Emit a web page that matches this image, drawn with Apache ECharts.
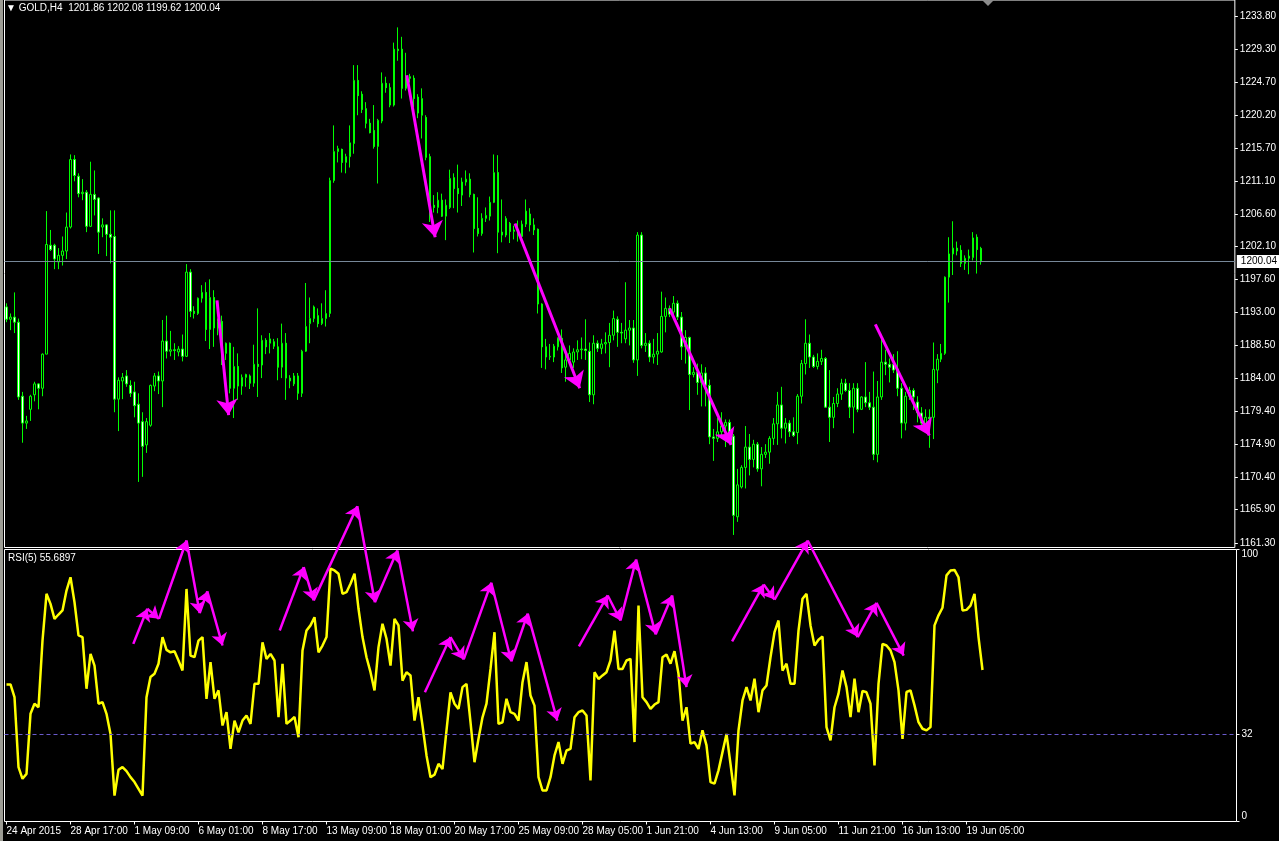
<!DOCTYPE html>
<html>
<head>
<meta charset="utf-8">
<title>GOLD,H4</title>
<script src="https://cdn.jsdelivr.net/npm/echarts@6/dist/echarts.min.js"></script>
<style>
html, body { margin: 0; padding: 0; background: #000; }
#chart { width: 1279px; height: 841px; }
</style>
</head>
<body>
<div id="chart"></div>
<script>
// instrument + last bar (O H L C) shown in the header
const symbolName = 'GOLD,H4';
const lastQuote = [1201.86, 1202.08, 1199.62, 1200.04];
const rsiCaption = 'RSI(5) 55.6897';

// time axis: one label every 16 bars
const timeLabels = ['24 Apr 2015', '28 Apr 17:00', '1 May 09:00', '6 May 01:00', '8 May 17:00',
  '13 May 09:00', '18 May 01:00', '20 May 17:00', '25 May 09:00', '28 May 05:00', '1 Jun 21:00',
  '4 Jun 13:00', '9 Jun 05:00', '11 Jun 21:00', '16 Jun 13:00', '19 Jun 05:00'];

// price scale ticks
const priceTicks = [1161.30, 1165.90, 1170.40, 1174.90, 1179.40, 1184.00, 1188.50, 1193.00, 1197.60,
  1202.10, 1206.60, 1211.10, 1215.70, 1220.20, 1224.70, 1229.30, 1233.80];
const rsiTicks = [0, 32, 100];
const rsiLevel = 32;

// H4 candles: [open, close, low, high]
const candles = [
  [1193.8,1192.1,1191.7,1194.3],[1192.1,1192.4,1190.6,1192.9],[1192.4,1191.7,1190.2,1195.8],[1191.7,1181.4,1181.0,1192.2],[1181.5,1177.8,1175.1,1182.1],
  [1177.8,1178.1,1177.0,1178.8],[1179.7,1181.5,1178.1,1181.7],[1181.7,1183.2,1180.8,1183.5],[1183.2,1182.6,1179.7,1183.3],[1182.6,1187.3,1181.5,1187.4],
  [1187.3,1202.4,1187.3,1207.0],[1202.3,1201.7,1201.5,1204.4],[1202.3,1200.4,1199.0,1202.5],[1200.0,1200.9,1199.0,1201.9],[1200.9,1201.5,1199.5,1203.5],
  [1201.5,1204.8,1200.4,1206.8],[1204.8,1214.1,1204.6,1214.8],[1214.1,1211.9,1211.1,1214.7],[1211.8,1209.4,1208.9,1212.2],[1209.4,1209.6,1208.5,1211.4],
  [1209.6,1204.9,1204.1,1209.9],[1204.9,1209.3,1204.8,1213.8],[1209.3,1208.6,1206.4,1212.6],[1208.8,1204.1,1201.1,1208.9],[1204.8,1205.1,1203.4,1206.0],
  [1205.1,1203.8,1200.8,1205.2],[1203.8,1203.4,1199.8,1207.1],[1203.5,1181.1,1179.3,1207.1],[1181.1,1183.7,1176.7,1184.1],[1183.6,1184.1,1181.1,1184.7],
  [1184.3,1183.2,1182.8,1185.1],[1183.0,1181.9,1181.4,1183.7],[1182.1,1180.2,1178.6,1183.5],[1180.4,1177.8,1169.7,1181.9],[1178.0,1174.6,1170.4,1179.3],
  [1174.8,1178.0,1173.7,1178.5],[1177.5,1183.0,1177.3,1183.1],[1182.9,1184.3,1182.2,1184.7],[1184.3,1183.6,1181.8,1184.9],[1183.6,1189.1,1180.0,1192.0],
  [1189.1,1187.7,1186.7,1192.6],[1187.7,1187.9,1187.0,1190.5],[1187.9,1187.8,1186.5,1188.8],[1187.6,1188.0,1187.0,1188.4],[1188.0,1187.0,1186.3,1190.0],
  [1187.0,1198.6,1186.9,1199.7],[1198.6,1193.2,1192.4,1199.0],[1193.2,1192.9,1192.2,1193.9],[1192.9,1195.0,1192.7,1195.1],[1195.0,1195.8,1194.4,1196.8],
  [1195.8,1190.7,1189.1,1197.2],[1190.7,1195.1,1188.0,1197.6],[1195.1,1190.9,1188.3,1196.1],[1190.9,1191.8,1189.9,1192.2],[1191.8,1186.9,1185.8,1192.6],
  [1187.4,1188.8,1186.5,1188.9],[1188.8,1182.6,1181.9,1188.9],[1182.6,1185.6,1178.5,1188.3],[1185.6,1182.9,1181.0,1187.4],[1182.9,1184.1,1181.7,1184.5],
  [1184.1,1184.5,1182.8,1184.6],[1184.3,1183.3,1182.5,1184.5],[1183.3,1185.9,1182.8,1188.6],[1185.9,1185.6,1181.4,1193.6],[1185.8,1189.2,1184.0,1189.9],
  [1189.2,1188.3,1187.3,1189.5],[1188.8,1189.4,1187.4,1190.2],[1189.0,1188.4,1188.0,1189.4],[1188.3,1185.5,1183.7,1189.5],[1185.5,1188.8,1184.0,1191.5],
  [1188.8,1184.0,1181.0,1190.2],[1184.0,1183.6,1182.6,1184.4],[1183.2,1184.3,1182.9,1184.7],[1184.3,1181.9,1181.0,1184.7],[1181.9,1187.7,1181.4,1187.9],
  [1187.7,1191.1,1187.6,1197.1],[1191.5,1192.2,1188.8,1195.1],[1192.2,1193.8,1191.7,1194.0],[1192.6,1191.5,1191.0,1193.6],[1191.5,1192.2,1191.3,1194.3],
  [1192.2,1192.9,1191.1,1196.1],[1192.9,1211.2,1192.4,1211.6],[1211.2,1215.2,1210.9,1218.8],[1215.2,1215.6,1213.7,1216.0],[1215.5,1213.7,1212.3,1215.6],
  [1213.7,1214.5,1212.2,1214.9],[1214.5,1216.4,1213.0,1218.8],[1216.3,1225.0,1214.9,1227.1],[1225.0,1222.9,1220.2,1227.1],[1223.1,1221.0,1220.5,1223.5],
  [1221.1,1219.1,1218.4,1222.0],[1219.1,1217.8,1217.7,1219.7],[1218.1,1215.9,1215.6,1221.6],[1215.9,1219.5,1210.8,1219.7],[1219.4,1224.6,1219.1,1226.1],
  [1224.6,1224.0,1223.3,1225.5],[1224.0,1221.6,1221.3,1224.6],[1221.6,1229.3,1221.4,1230.2],[1229.3,1229.1,1227.7,1232.3],[1229.3,1223.9,1222.5,1231.0],
  [1223.9,1225.5,1223.6,1228.8],[1225.5,1225.3,1224.7,1225.9],[1225.3,1222.5,1221.3,1225.7],[1222.7,1220.5,1219.8,1223.1],[1220.2,1222.5,1217.0,1223.9],
  [1219.9,1214.4,1214.0,1220.2],[1214.5,1207.8,1205.5,1214.9],[1207.8,1207.5,1206.8,1209.2],[1207.5,1208.5,1206.7,1209.6],[1208.5,1206.3,1206.2,1209.4],
  [1206.3,1207.8,1203.0,1208.6],[1207.5,1211.5,1207.3,1212.7],[1211.6,1210.1,1207.4,1212.2],[1210.1,1209.4,1206.8,1213.4],[1209.2,1211.0,1207.7,1211.6],
  [1211.0,1211.4,1210.5,1212.6],[1211.4,1209.3,1208.9,1212.2],[1209.3,1204.6,1201.3,1209.4],[1204.6,1203.9,1203.5,1208.9],[1203.9,1206.0,1203.6,1206.7],
  [1206.0,1206.4,1205.5,1207.5],[1206.3,1208.2,1205.7,1209.0],[1208.2,1212.3,1208.1,1214.8],[1212.3,1204.1,1201.2,1214.7],[1204.1,1203.7,1202.7,1208.6],
  [1203.7,1206.0,1203.4,1206.3],[1205.3,1204.2,1202.6,1205.5],[1204.2,1204.4,1203.1,1205.0],[1204.4,1203.7,1202.8,1205.7],[1203.5,1205.2,1203.0,1205.7],
  [1205.2,1207.0,1204.8,1208.6],[1206.6,1205.1,1204.2,1207.4],[1205.1,1204.4,1203.7,1206.0],[1204.5,1194.2,1192.9,1204.6],[1194.2,1188.3,1185.4,1194.3],
  [1188.3,1186.9,1185.2,1189.4],[1186.9,1187.0,1186.5,1188.7],[1186.9,1188.4,1186.2,1188.7],[1188.3,1189.5,1187.8,1189.6],[1189.5,1185.4,1184.7,1190.7],
  [1185.5,1186.5,1183.5,1187.4],[1186.5,1187.4,1186.0,1188.5],[1186.2,1187.6,1185.4,1188.1],[1187.6,1187.9,1186.5,1189.2],[1187.9,1188.0,1186.6,1189.6],
  [1188.0,1187.8,1186.5,1192.1],[1187.7,1181.7,1180.7,1188.9],[1181.7,1188.8,1180.4,1189.9],[1188.8,1188.1,1187.6,1189.2],[1188.1,1188.7,1187.3,1189.4],
  [1188.7,1188.9,1187.4,1190.3],[1188.9,1189.9,1185.5,1191.6],[1189.9,1192.2,1189.2,1193.3],[1192.1,1190.3,1188.3,1192.5],[1190.3,1190.2,1188.8,1191.6],
  [1189.4,1190.6,1188.8,1197.2],[1190.6,1190.9,1188.5,1192.0],[1190.9,1186.5,1186.1,1192.0],[1186.5,1203.7,1184.3,1204.1],[1203.7,1188.5,1188.1,1204.1],
  [1188.5,1188.8,1187.6,1190.2],[1188.8,1186.9,1186.2,1189.2],[1186.9,1187.3,1186.0,1189.4],[1187.3,1187.7,1185.8,1190.2],[1187.6,1192.5,1187.5,1195.9],
  [1192.5,1193.6,1190.3,1195.1],[1193.6,1192.8,1192.4,1194.0],[1193.1,1194.3,1192.4,1195.3],[1194.3,1192.4,1192.0,1194.7],[1192.4,1188.3,1186.5,1193.1],
  [1188.3,1189.6,1186.0,1190.6],[1189.6,1184.5,1179.6,1189.7],[1184.5,1184.8,1184.1,1185.5],[1184.8,1183.4,1181.7,1186.0],[1183.4,1184.7,1180.1,1185.9],
  [1184.7,1183.0,1180.1,1185.5],[1183.0,1175.9,1174.9,1183.8],[1175.9,1175.7,1172.6,1177.0],[1175.7,1176.6,1175.2,1178.5],[1176.6,1177.4,1176.1,1179.3],
  [1177.4,1177.9,1174.5,1178.3],[1177.9,1176.4,1175.0,1178.3],[1176.0,1165.1,1162.4,1176.3],[1164.9,1169.3,1164.2,1171.5],[1169.0,1171.7,1168.8,1172.0],
  [1171.7,1174.5,1168.8,1177.4],[1174.5,1172.8,1170.6,1176.3],[1172.8,1174.9,1171.7,1175.5],[1174.9,1171.5,1171.1,1175.2],[1171.5,1173.5,1169.1,1174.5],
  [1173.5,1173.8,1173.0,1174.9],[1173.8,1175.7,1172.2,1176.0],[1175.7,1177.7,1174.8,1178.5],[1177.7,1180.3,1174.8,1182.1],[1180.3,1177.1,1175.7,1182.8],
  [1177.1,1177.8,1175.0,1178.5],[1177.8,1176.6,1175.9,1178.2],[1176.6,1176.1,1175.9,1178.6],[1176.5,1181.5,1174.9,1181.8],[1181.5,1186.0,1180.5,1186.5],
  [1186.0,1188.8,1184.5,1192.1],[1188.8,1186.9,1185.4,1190.0],[1186.9,1185.6,1185.4,1187.2],[1185.6,1186.3,1185.2,1187.4],[1186.3,1186.7,1185.8,1187.9],
  [1186.7,1180.0,1179.9,1186.9],[1180.0,1178.6,1175.2,1185.1],[1178.6,1180.5,1177.1,1181.4],[1180.5,1181.8,1180.0,1182.6],[1181.8,1183.3,1181.0,1183.9],
  [1183.3,1182.3,1182.1,1183.9],[1182.3,1180.0,1178.5,1183.3],[1180.0,1182.6,1176.4,1183.3],[1182.6,1179.7,1179.3,1183.3],[1179.7,1181.4,1179.6,1181.5],
  [1181.4,1180.6,1180.0,1186.2],[1180.6,1180.0,1179.6,1182.1],[1180.0,1173.5,1172.7,1184.9],[1173.5,1181.4,1172.4,1183.6],[1181.4,1186.2,1181.0,1189.9],
  [1186.2,1185.9,1184.4,1187.9],[1185.9,1185.5,1183.4,1186.7],[1185.9,1185.1,1184.7,1187.3],[1185.2,1182.6,1181.5,1187.7],[1182.6,1177.8,1175.7,1183.3],
  [1177.8,1181.5,1176.8,1182.1],[1181.5,1182.3,1181.0,1182.8],[1182.3,1181.4,1179.6,1182.6],[1180.7,1179.2,1177.9,1181.5],[1179.2,1177.8,1177.5,1180.0],
  [1177.8,1178.6,1177.2,1179.7],[1178.6,1178.4,1174.4,1179.7],[1178.6,1185.2,1175.6,1188.9],[1185.1,1186.6,1183.3,1187.3],[1186.6,1187.4,1186.2,1188.7],
  [1187.4,1197.9,1187.2,1198.0],[1197.9,1201.1,1194.4,1203.4],[1201.1,1201.9,1198.2,1205.6],[1201.9,1201.5,1200.9,1202.8],[1201.6,1199.8,1199.3,1202.3],
  [1199.8,1200.5,1198.9,1200.9],[1200.5,1200.8,1198.3,1201.7],[1200.6,1203.3,1200.2,1204.1],[1203.4,1201.7,1198.4,1203.8],[1201.86,1200.04,1199.62,1202.08]
];

// RSI(5), one value per candle
const rsiValues = [
  50.4, 50.4, 45.7, 20.0, 15.7, 17.5, 39.6, 43.3, 42.0, 66.5,
  83.7, 80.0, 74.5, 76.1, 77.6, 84.9, 89.8, 80.6, 68.4, 67.8,
  48.8, 61.6, 57.3, 43.3, 43.9, 39.6, 32.2, 9.5, 19.0, 20.0,
  18.5, 16.3, 14.5, 12.0, 9.5, 45.7, 53.1, 54.3, 58.0, 67.8,
  63.1, 62.2, 62.6, 59.2, 55.5, 85.5, 61.0, 60.4, 66.5, 67.8,
  45.1, 58.6, 45.1, 48.2, 35.3, 40.2, 26.7, 37.1, 32.8, 37.1,
  39.0, 35.9, 50.6, 50.6, 65.9, 59.8, 61.6, 59.2, 38.4, 58.0,
  35.9, 37.1, 38.4, 31.0, 62.9, 70.2, 72.1, 75.1, 62.2, 64.7,
  67.8, 93.0, 92.3, 91.1, 83.7, 84.3, 87.4, 91.1, 78.2, 67.8,
  60.4, 54.9, 48.2, 64.1, 72.7, 67.2, 57.3, 74.5, 72.1, 51.8,
  54.9, 53.7, 37.1, 45.7, 35.3, 24.3, 16.3, 17.2, 21.2, 19.3,
  33.5, 47.5, 43.3, 41.4, 49.4, 50.6, 36.5, 21.8, 30.4, 38.3,
  43.3, 56.1, 69.6, 35.9, 36.5, 45.1, 40.2, 39.6, 37.1, 51.2,
  58.6, 46.3, 42.6, 16.3, 11.4, 11.4, 16.3, 24.3, 29.2, 21.2,
  26.1, 26.7, 38.3, 40.2, 40.8, 39.0, 15.1, 54.9, 52.4, 53.7,
  54.9, 59.2, 70.2, 56.1, 56.1, 59.2, 59.8, 29.2, 79.4, 45.7,
  43.9, 41.4, 43.0, 43.9, 60.4, 61.4, 58.0, 62.6, 54.3, 37.1,
  42.0, 28.6, 29.2, 26.7, 33.5, 28.0, 14.5, 13.9, 18.8, 25.5,
  32.2, 21.2, 9.6, 33.5, 44.5, 49.4, 44.5, 52.5, 40.2, 48.2,
  50.0, 60.4, 69.6, 73.9, 55.5, 58.0, 50.6, 50.6, 70.2, 81.9,
  83.7, 72.1, 64.7, 66.8, 68.0, 34.7, 29.8, 42.0, 47.0, 55.5,
  49.4, 38.4, 52.5, 40.2, 48.0, 47.5, 43.3, 20.6, 50.6, 65.3,
  64.7, 62.9, 58.6, 48.2, 30.4, 47.6, 48.2, 42.7, 36.5, 34.1,
  33.5, 34.7, 72.1, 75.8, 78.6, 90.5, 92.3, 92.5, 89.8, 77.6,
  77.8, 79.4, 83.7, 67.8, 55.69
];

// hand drawn arrows, points as [bar index, price]
const priceArrows = [
  [[52.7, 1194.7], [55.6, 1178.9]],
  [[100.2, 1225.7], [107.3, 1203.4]],
  [[127.3, 1205.3], [143.5, 1182.6]],
  [[166.0, 1193.6], [181.4, 1174.8]],
  [[217.5, 1191.4], [231.0, 1176.1]]
];
// arrows on the RSI window, points as [bar index, rsi]
const rsiArrows = [
  [[31.7, 65.3], [35.2, 78.2], [38.1, 74.5], [45.0, 103.3], [48.3, 76.6], [50.2, 84.6], [54.0, 64.7]],
  [[68.3, 70.2], [74.3, 93.5], [76.8, 81.3], [87.7, 115.9], [92.1, 80.6], [97.7, 99.6], [101.6, 69.9]],
  [[104.6, 47.5], [111.0, 67.8], [114.3, 59.6], [121.2, 87.8], [126.2, 58.9], [130.3, 76.4], [137.7, 37.1]],
  [[143.1, 64.4], [150.3, 83.1], [153.5, 73.9], [157.4, 96.3], [162.3, 68.8], [166.4, 83.1], [170.0, 49.4]],
  [[181.4, 66.2], [189.3, 87.1], [192.0, 81.6], [200.3, 103.3], [212.8, 67.8], [217.5, 80.4], [224.3, 61.0]]
];

const barSlots = 308; // bars that fit in the window (chart shift leaves the right part empty)
const priceMin = 1160.67;
const priceMax = 1236.07;

const font = 'Liberation Sans, Arial, sans-serif';
const slots = [];
for (let i = 0; i < barSlots; i++) slots.push(String(i));

// split polylines into single arrow segments
function segments(polylines) {
  const out = [];
  polylines.forEach(pl => {
    for (let k = 1; k < pl.length; k++) {
      out.push({ coords: [pl[k - 1], pl[k]] });
    }
  });
  return out;
}

const isTimeTick = index => index % 16 === 0 && index / 16 < timeLabels.length;

const chart = echarts.init(document.getElementById('chart'));

const option = {
  backgroundColor: '#000',
  animation: false,
  grid: [
    { left: 4.5, top: -0.5, width: 1232, height: 548, show: true, borderColor: '#fff', borderWidth: 1 },
    { left: 4.5, top: 549.5, width: 1232, height: 272, show: true, borderColor: '#fff', borderWidth: 1 }
  ],
  xAxis: [
    {
      type: 'category', gridIndex: 0, data: slots, boundaryGap: true,
      axisLine: { show: false, onZero: false }, axisTick: { show: false }, axisLabel: { show: false },
      splitLine: { show: false }
    },
    {
      type: 'category', gridIndex: 1, data: slots, boundaryGap: true,
      axisLine: { show: false, onZero: false },
      axisTick: { show: true, interval: isTimeTick, alignWithLabel: true, length: 3, lineStyle: { color: '#fff' } },
      axisLabel: {
        interval: isTimeTick, align: 'left', color: '#fff', fontFamily: font, fontSize: 10, margin: 5,
        formatter: (v, i) => isTimeTick(i) ? timeLabels[i / 16] : ''
      },
      splitLine: { show: false }
    },
    { type: 'value', gridIndex: 0, min: -0.5, max: barSlots - 0.5, show: false,
      axisLine: { onZero: false }, splitLine: { show: false } },
    { type: 'value', gridIndex: 1, min: -0.5, max: barSlots - 0.5, show: false,
      axisLine: { onZero: false }, splitLine: { show: false } }
  ],
  yAxis: [
    {
      type: 'value', gridIndex: 0, position: 'right', min: priceMin, max: priceMax,
      splitLine: { show: false }, axisLine: { show: false, onZero: false },
      axisTick: { show: true, length: 3, lineStyle: { color: '#fff' }, customValues: priceTicks },
      axisLabel: { color: '#fff', fontFamily: font, fontSize: 10, margin: 5, customValues: priceTicks,
        formatter: v => v.toFixed(2) }
    },
    {
      type: 'value', gridIndex: 1, position: 'right', min: 0, max: 100,
      splitLine: { show: false }, axisLine: { show: false, onZero: false },
      axisTick: { show: true, length: 3, lineStyle: { color: '#fff' }, customValues: rsiTicks },
      axisLabel: { color: '#fff', fontFamily: font, fontSize: 10, margin: 5, customValues: rsiTicks,
        verticalAlignMaxLabel: 'top', verticalAlignMinLabel: 'bottom',
        formatter: v => String(v) }
    }
  ],
  series: [
    {
      type: 'candlestick', xAxisIndex: 0, yAxisIndex: 0, data: candles,
      barWidth: 2, large: false, silent: true,
      itemStyle: {
        color: '#000', color0: '#fff',
        borderColor: '#00ff00', borderColor0: '#00ff00', borderColorDoji: '#00ff00', borderWidth: 1
      },
      markLine: {
        silent: true, symbol: 'none', animation: false,
        data: [{ yAxis: lastQuote[3] }],
        lineStyle: { color: '#778899', width: 1, type: 'solid' },
        label: {
          show: true, position: 'end', distance: 2, formatter: lastQuote[3].toFixed(2),
          backgroundColor: '#fff', color: '#000', padding: [2, 4, 1, 4], fontFamily: font, fontSize: 10
        }
      }
    },
    {
      type: 'lines', coordinateSystem: 'cartesian2d', xAxisIndex: 2, yAxisIndex: 0,
      data: segments(priceArrows), symbol: ['none', 'arrow'], symbolSize: 16,
      lineStyle: { color: '#ff00ff', width: 3, opacity: 1, curveness: 0 },
      silent: true, clip: false, z: 5
    },
    {
      type: 'line', xAxisIndex: 1, yAxisIndex: 1, data: rsiValues, symbol: 'none', silent: true,
      lineStyle: { color: '#ffff00', width: 2.5 },
      markLine: {
        silent: true, symbol: 'none', animation: false,
        data: [{ yAxis: rsiLevel }],
        lineStyle: { color: '#6a5acd', width: 1, type: [4, 3] },
        label: { show: false }
      }
    },
    {
      type: 'lines', coordinateSystem: 'cartesian2d', xAxisIndex: 3, yAxisIndex: 1,
      data: segments(rsiArrows), symbol: ['none', 'arrow'], symbolSize: 12,
      lineStyle: { color: '#ff00ff', width: 2.5, opacity: 1, curveness: 0 },
      silent: true, clip: false, z: 5
    }
  ],
  graphic: [
    { type: 'rect', left: 0, top: 0, shape: { width: 3, height: 841 }, style: { fill: '#9c9c94' }, silent: true },
    { type: 'polygon', shape: { points: [[982, 0], [994, 0], [988, 6]] }, style: { fill: '#8c8c8c' }, silent: true },
    {
      type: 'text', left: 6, top: 3, silent: true,
      style: {
        text: '\u25BC ' + symbolName + '  ' + lastQuote.map(v => v.toFixed(2)).join(' '),
        fill: '#fff', font: '10px ' + font
      }
    },
    {
      type: 'text', left: 8, top: 553, silent: true,
      style: { text: rsiCaption, fill: '#fff', font: '10px ' + font }
    }
  ]
};

chart.setOption(option);
window.addEventListener('resize', chart.resize);
</script>
</body>
</html>
